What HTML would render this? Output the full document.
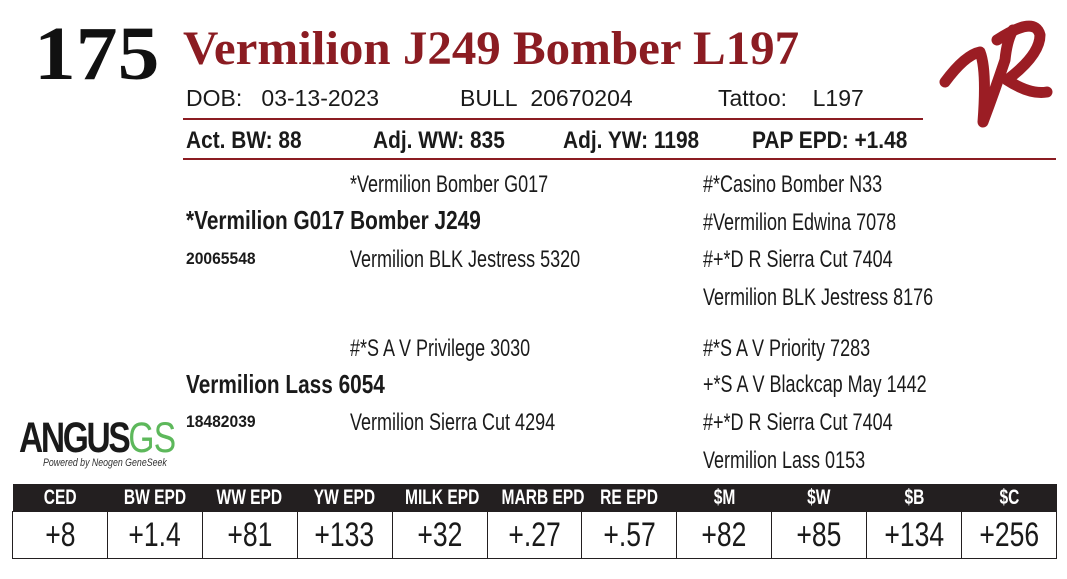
<!DOCTYPE html>
<html><head><meta charset="utf-8"><style>
body{margin:0;width:1067px;height:579px;background:#fff;position:relative;overflow:hidden;font-family:"Liberation Sans",sans-serif;color:#1a1a1a}
.a{position:absolute;white-space:nowrap;line-height:1;transform-origin:left top}
.s{font-family:"Liberation Serif",serif;font-weight:bold}
.t{font-size:24px;transform:scaleX(0.75)}
.b{font-weight:bold}
.hb{font-size:24px;font-weight:bold;transform:scaleX(0.87)}
table{position:absolute;left:12px;top:484px;border-collapse:collapse;width:1045px;table-layout:fixed}
th{background:#231f20;color:#fff;font-size:21px;height:27px;padding:0;font-weight:bold;white-space:nowrap;line-height:27px}
td{border:1.5px solid #231f20;font-size:34px;height:46px;text-align:center;padding:0;line-height:46px;white-space:nowrap}
th span,td span{display:inline-block;transform:scaleX(0.78)}
th span{transform:scaleX(0.74)}
</style></head><body>
<div class="a s" style="left:34px;top:16px;font-size:76px;color:#111;transform:scaleX(1.1)">175</div>
<div class="a s" style="left:183px;top:25px;font-size:48px;color:#8b1c22;transform:scaleX(1.02)">Vermilion J249 Bomber L197</div>
<div class="a" style="left:186px;top:87px;font-size:23px">DOB:&nbsp;&nbsp;&nbsp;03-13-2023</div>
<div class="a" style="left:460px;top:87px;font-size:23px">BULL&nbsp;&nbsp;20670204</div>
<div class="a" style="left:718px;top:87px;font-size:23px">Tattoo:&nbsp;&nbsp;&nbsp;&nbsp;L197</div>
<div class="a" style="left:183px;top:118px;width:740px;height:1.5px;background:#8b1c22"></div>
<div class="a hb" style="left:186px;top:129px">Act. BW: 88</div>
<div class="a hb" style="left:373px;top:129px">Adj. WW: 835</div>
<div class="a hb" style="left:563px;top:129px">Adj. YW: 1198</div>
<div class="a hb" style="left:752px;top:129px">PAP EPD: +1.48</div>
<div class="a" style="left:183px;top:158px;width:873px;height:1.5px;background:#8b1c22"></div>
<div class="a t" style="left:350px;top:173px">*Vermilion Bomber G017</div>
<div class="a" style="left:186px;top:207px;font-size:26px;font-weight:bold;transform:scaleX(0.8)">*Vermilion G017 Bomber J249</div>
<div class="a" style="left:186px;top:250px;font-size:17px;font-weight:bold;transform:scaleX(0.92)">20065548</div>
<div class="a t" style="left:350px;top:248px">Vermilion BLK Jestress 5320</div>
<div class="a t" style="left:703px;top:173px">#*Casino Bomber N33</div>
<div class="a t" style="left:703px;top:211px">#Vermilion Edwina 7078</div>
<div class="a t" style="left:703px;top:248px">#+*D R Sierra Cut 7404</div>
<div class="a t" style="left:703px;top:286px">Vermilion BLK Jestress 8176</div>
<div class="a t" style="left:350px;top:337px">#*S A V Privilege 3030</div>
<div class="a" style="left:186px;top:371px;font-size:26px;font-weight:bold;transform:scaleX(0.8)">Vermilion Lass 6054</div>
<div class="a" style="left:186px;top:413px;font-size:17px;font-weight:bold;transform:scaleX(0.92)">18482039</div>
<div class="a t" style="left:350px;top:411px">Vermilion Sierra Cut 4294</div>
<div class="a t" style="left:703px;top:337px">#*S A V Priority 7283</div>
<div class="a t" style="left:703px;top:373px">+*S A V Blackcap May 1442</div>
<div class="a t" style="left:703px;top:411px">#+*D R Sierra Cut 7404</div>
<div class="a t" style="left:703px;top:449px">Vermilion Lass 0153</div>
<div class="a" style="left:19px;top:417px;font-size:43px;font-weight:bold;letter-spacing:-3px;transform:scaleX(0.78)">ANGUS<span style="color:#5db85b;font-weight:normal;letter-spacing:-1px">GS</span></div>
<div class="a" style="left:43px;top:458px;font-size:11px;font-style:italic;color:#333;transform:scaleX(0.8)">Powered by Neogen GeneSeek</div>
<svg class="a" style="left:935px;top:10px" width="125" height="125" viewBox="0 0 125 125">
<g fill="none" stroke="#9b1d24" stroke-width="11" stroke-linecap="round" stroke-linejoin="round">
<path d="M10 72 Q30 45 45 42 Q52 60 48 112 Q60 80 70 50 Q72 30 78 20"/>
<path d="M62 30 Q100 5 105 25 Q105 45 72 70 Q95 85 112 82"/>
</g></svg>
<table><tr><th><span>CED</span></th><th><span>BW EPD</span></th><th><span>WW EPD</span></th><th><span>YW EPD</span></th><th><span>MILK EPD</span></th><th><span>MARB EPD</span></th><th><span>RE EPD</span></th><th><span>$M</span></th><th><span>$W</span></th><th><span>$B</span></th><th><span>$C</span></th></tr>
<tr><td><span>+8</span></td><td><span>+1.4</span></td><td><span>+81</span></td><td><span>+133</span></td><td><span>+32</span></td><td><span>+.27</span></td><td><span>+.57</span></td><td><span>+82</span></td><td><span>+85</span></td><td><span>+134</span></td><td><span>+256</span></td></tr></table>
</body></html>
